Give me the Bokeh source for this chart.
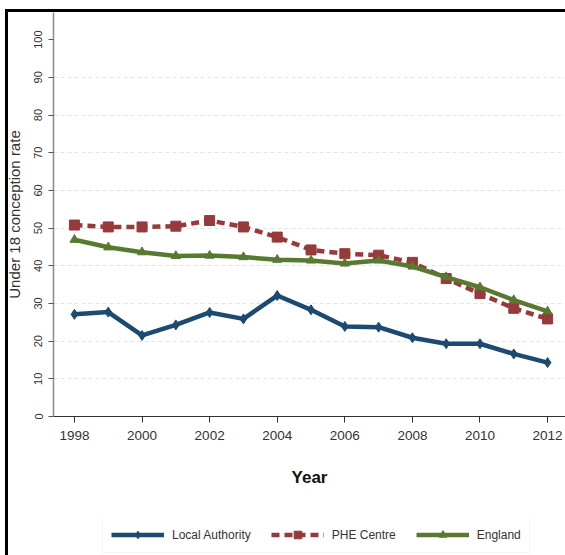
from bokeh.plotting import figure
from bokeh.models import Range1d, FixedTicker, Legend, LegendItem
from bokeh.layouts import column
from bokeh.embed import file_html
from bokeh.resources import INLINE

years = [1998, 1999, 2000, 2001, 2002, 2003, 2004, 2005, 2006, 2007, 2008, 2009, 2010, 2011, 2012]
local_authority = [27.1, 27.7, 21.5, 24.3, 27.6, 25.9, 32.1, 28.3, 23.9, 23.7, 20.9, 19.3, 19.3, 16.6, 14.3]
phe_centre = [50.8, 50.3, 50.3, 50.5, 52.0, 50.3, 47.6, 44.2, 43.2, 42.8, 40.9, 36.6, 32.6, 28.7, 25.9]
england = [46.9, 44.9, 43.6, 42.6, 42.7, 42.3, 41.6, 41.4, 40.6, 41.4, 39.8, 37.0, 34.3, 30.9, 27.9]
series_names = ["Local Authority", "PHE Centre", "England"]
x_ticks = [1998, 2000, 2002, 2004, 2006, 2008, 2010, 2012]
y_ticks = [0, 10, 20, 30, 40, 50, 60, 70, 80, 90, 100]
grid_ticks = [10, 20, 30, 40, 50, 60, 70, 80, 90]

FONT = "'Liberation Sans', Arial, sans-serif"

BLUE = "#1c4a71"
RED = "#973a3c"
GREEN = "#587a30"

# ---------------- main chart ----------------
p = figure(width=565, height=518, output_backend="svg", toolbar_location=None,
           x_range=Range1d(1997.38, 2012.53), y_range=Range1d(0, 107.2),
           min_border_left=53, min_border_right=0, min_border_top=12, min_border_bottom=102)
# outer black frame (left and top edges) drawn behind a transparent border area
p.styles = {
    "background": "linear-gradient(#000, #000) 5px 9px / 3px 100% no-repeat, "
                  "linear-gradient(#000, #000) 5px 9px / 100% 3px no-repeat, #ffffff"
}
p.border_fill_alpha = 0
p.outline_line_color = None
p.background_fill_color = "white"

# grids
p.xgrid.grid_line_color = None
p.ygrid.ticker = FixedTicker(ticks=grid_ticks)
p.ygrid.grid_line_color = "#dbe7ea"
p.ygrid.grid_line_dash = "4 3"
p.ygrid.grid_line_width = 1

# x axis
p.xaxis.ticker = FixedTicker(ticks=x_ticks)
p.xaxis.axis_line_color = "#333333"
p.xaxis.major_tick_line_color = "#333333"
p.xaxis.minor_tick_line_color = None
p.xaxis.major_tick_out = 6
p.xaxis.major_tick_in = 0
p.xaxis.major_label_text_font = FONT
p.xaxis.major_label_text_font_size = "13.5px"
p.xaxis.major_label_text_color = "#333333"
p.xaxis.major_label_standoff = 8
p.xaxis.axis_label = "Year"
p.xaxis.axis_label_text_font = FONT
p.xaxis.axis_label_text_font_style = "bold"
p.xaxis.axis_label_text_font_size = "17px"
p.xaxis.axis_label_text_color = "#111111"
p.xaxis.axis_label_standoff = 25

# y axis
p.yaxis.ticker = FixedTicker(ticks=y_ticks)
p.yaxis.axis_line_color = "#8a8a8a"
p.yaxis.axis_line_width = 1.5
p.yaxis.major_tick_line_color = "#555555"
p.yaxis.minor_tick_line_color = None
p.yaxis.major_tick_out = 5
p.yaxis.major_tick_in = 0
p.yaxis.major_label_orientation = "vertical"
p.yaxis.major_label_text_font = FONT
p.yaxis.major_label_text_font_size = "11px"
p.yaxis.major_label_text_color = "#333333"
p.yaxis.major_label_standoff = 6
p.yaxis.axis_label = "Under 18 conception rate"
p.yaxis.axis_label_text_font = FONT
p.yaxis.axis_label_text_font_style = "normal"
p.yaxis.axis_label_text_font_size = "15px"
p.yaxis.axis_label_text_color = "#333333"
p.yaxis.axis_label_standoff = 9


def draw(fig):
    r = []
    r.append((fig.line(years, local_authority, line_color=BLUE, line_width=4.5),
              fig.scatter(years, local_authority, marker="diamond", size=10, color=BLUE)))
    r.append((fig.line(years, phe_centre, line_color=RED, line_width=4.5, line_dash="8 5"),
              fig.scatter(years, phe_centre, marker="square", size=10, color=RED)))
    r.append((fig.line(years, england, line_color=GREEN, line_width=4.5),
              fig.scatter(years, england, marker="triangle", size=9, color=GREEN)))
    return r


draw(p)

# ---------------- legend strip ----------------
q = figure(width=565, height=37, output_backend="svg", toolbar_location=None,
           x_range=Range1d(0, 1), y_range=Range1d(0, 1),
           x_axis_type=None, y_axis_type=None,
           min_border_left=0, min_border_right=0, min_border_top=0, min_border_bottom=0)
q.styles = {
    "background": "linear-gradient(#000, #000) 5px 0px / 3px 100% no-repeat, #ffffff"
}
q.border_fill_alpha = 0
q.background_fill_alpha = 0
q.outline_line_color = None

legend_renderers = draw(q)

legend = Legend(items=[LegendItem(label=name, renderers=list(rs))
                       for name, rs in zip(series_names, legend_renderers)],
                orientation="horizontal", location=(49, 2))
legend.glyph_width = 53
legend.glyph_height = 19
legend.label_height = 19
legend.label_standoff = 8
legend.spacing = 20
legend.padding = 8
legend.margin = 0
legend.label_text_font = FONT
legend.label_text_font_size = "12px"
legend.label_text_color = "#333333"
legend.border_line_color = "#e3ecee"
legend.border_line_width = 1
legend.background_fill_color = "white"
legend.background_fill_alpha = 1
q.add_layout(legend, "center")

layout = column(p, q, spacing=0)
open("out.html", "w").write(file_html(layout, INLINE))
